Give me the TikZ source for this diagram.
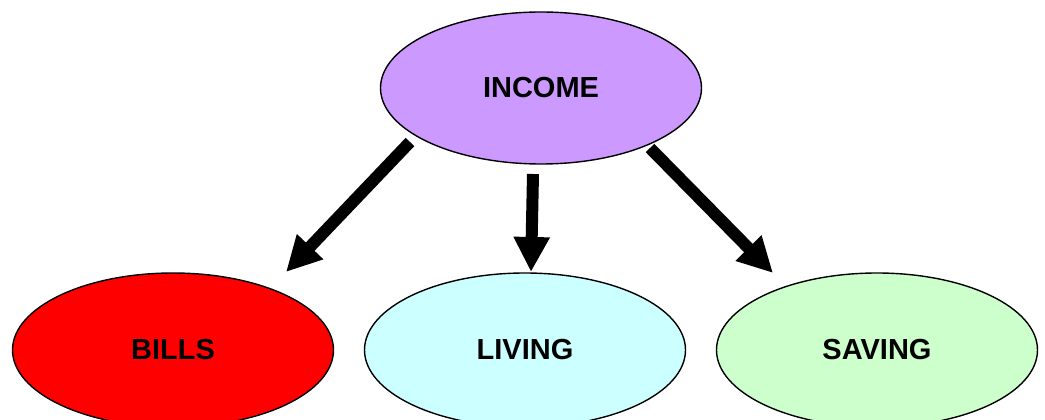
\documentclass[tikz,border=0pt]{standalone}
\usepackage{fontspec}
\setmainfont{Liberation Sans}
\usetikzlibrary{shapes.geometric,arrows.meta}

\definecolor{incomecol}{HTML}{CC99FF}
\definecolor{billscol}{HTML}{FF0000}
\definecolor{livingcol}{HTML}{CCFFFF}
\definecolor{savingcol}{HTML}{CCFFCC}

\begin{document}
\begin{tikzpicture}[x=1pt, y=1pt]
  \useasboundingbox (0,0) rectangle (1045,420);

  \begin{scope}[every node/.style={ellipse, draw, line width=1.4pt,
      minimum width=321pt, minimum height=154pt,
      font=\bfseries\fontsize{29}{31}\selectfont}]
    \node[fill=incomecol, minimum height=152pt] (income) at (541,332) {INCOME} ;
    \node[fill=billscol] (bills) at (173,70) {BILLS} ;
    \node[fill=livingcol] (living) at (525,70) {LIVING} ;
    \node[fill=savingcol] (saving) at (877,70) {SAVING} ;
  \end{scope}

  % arrow ends, just off the ovals
  \coordinate (bills-out) at ([shift={(-131,-54)}]income.center);
  \coordinate (living-out) at ([shift={(-8,-86)}]income.center);
  \coordinate (saving-out) at ([shift={(109,-60)}]income.center);
  \coordinate (bills-in) at ([shift={(113,78)}]bills.center);
  \coordinate (living-in) at ([shift={(6,78)}]living.center);
  \coordinate (saving-in) at ([shift={(-104,77)}]saving.center);

  \begin{scope}[line width=12pt, -{Triangle[width=34pt,length=35pt]}]
    \draw (bills-out) to (bills-in);
    \draw (living-out) to (living-in);
    \draw (saving-out) to (saving-in);
  \end{scope}
\end{tikzpicture}
\end{document}
